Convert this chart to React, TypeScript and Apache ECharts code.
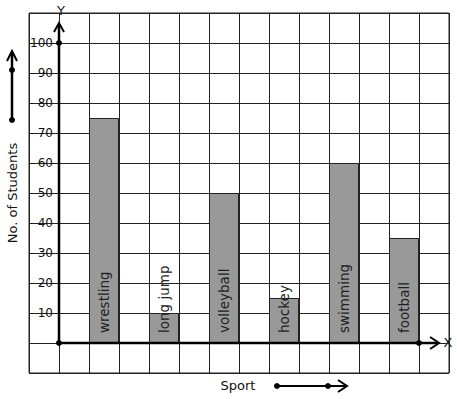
import React, { useEffect, useRef } from "react";
import * as echarts from "echarts";

const sports = ["wrestling", "long jump", "volleyball", "hockey", "swimming", "football"];
const students = [75, 10, 50, 15, 60, 35];
const yTickValues = [10, 20, 30, 40, 50, 60, 70, 80, 90, 100];
const xRange = [-1, 13];
const yRange = [-10, 110];
const axisEnds = { x: 12.67, y: 106.67, xDot: 12, yDot: 100 };

export default function App() {
  const ref = useRef<HTMLDivElement>(null);
  useEffect(() => {
    if (!ref.current) return;
    const chart = echarts.init(ref.current, null, { renderer: "svg" });
    const font = "DejaVu Sans";
    const ink = "#111";
    const barData = sports.map((s, i) => ({ value: [i * 2 + 1.5, students[i]], name: s }));

    const chevron = (apex: number[], dir: "up" | "right") =>
      dir === "up"
        ? [[apex[0] - 5, apex[1] + 9], apex, [apex[0] + 5, apex[1] + 9]]
        : [[apex[0] - 9, apex[1] - 6], apex, [apex[0] - 9, apex[1] + 6]];

    const option: any = {
      animation: false,
      grid: {
        left: 29, right: 8, top: 13, bottom: 26,
        show: true, borderColor: "#222", borderWidth: 1,
        containLabel: false, outerBoundsMode: "none",
      },
      xAxis: {
        type: "value",
        min: xRange[0],
        max: xRange[1],
        interval: 1,
        axisLine: { show: false },
        axisTick: { show: false },
        axisLabel: { show: false },
        splitLine: { show: true, lineStyle: { color: "#222", width: 1 } },
      },
      yAxis: [
        {
          type: "value",
          position: "left",
          offset: -30,
          min: yRange[0],
          max: yRange[1],
          interval: 10,
          axisLine: { show: false, onZero: false },
          axisTick: { show: false },
          axisLabel: {
            customValues: yTickValues,
            fontFamily: font,
            fontSize: 12,
            color: ink,
            margin: 6,
          },
          splitLine: { show: true, lineStyle: { color: "#222", width: 1 } },
        },
        {
          type: "value",
          position: "left",
          min: yRange[0],
          max: yRange[1],
          interval: 10,
          axisLine: { show: false, onZero: false },
          axisTick: { show: true, inside: true, length: 4, customValues: yTickValues, lineStyle: { color: ink, width: 1 } },
          axisLabel: { show: false },
          splitLine: { show: false },
        },
      ],
      series: [
        {
          type: "bar",
          data: barData,
          barWidth: 30,
          itemStyle: { color: "#999999", borderColor: "#222", borderWidth: 1 },
          label: {
            show: true,
            position: "insideBottom",
            distance: 10,
            rotate: 90,
            align: "left",
            verticalAlign: "middle",
            formatter: (p: any) => p.name,
            fontFamily: font,
            fontSize: 13.5,
            color: "#222",
          },
          z: 3,
        },
        {
          type: "custom",
          data: [[0, 0]],
          z: 5,
          silent: true,
          renderItem: (params: any, api: any) => {
            const o = api.coord([0, 0]);
            const yTop = api.coord([0, axisEnds.y]);
            const xEnd = api.coord([axisEnds.x, 0]);
            const yDot = api.coord([0, axisEnds.yDot]);
            const xDot = api.coord([axisEnds.xDot, 0]);
            const st = { stroke: "#000", lineWidth: 2.5, fill: "none" };
            return {
              type: "group",
              children: [
                { type: "line", shape: { x1: o[0], y1: o[1], x2: yTop[0], y2: yTop[1] + 1 }, style: st },
                { type: "line", shape: { x1: o[0], y1: o[1], x2: xEnd[0] - 1, y2: xEnd[1] }, style: st },
                { type: "polyline", shape: { points: chevron(yTop, "up") }, style: { stroke: "#000", lineWidth: 2, fill: "none" } },
                { type: "polyline", shape: { points: chevron(xEnd, "right") }, style: { stroke: "#000", lineWidth: 2, fill: "none" } },
                { type: "circle", shape: { cx: o[0], cy: o[1], r: 3 }, style: { fill: "#000" } },
                { type: "circle", shape: { cx: yDot[0], cy: yDot[1], r: 3 }, style: { fill: "#000" } },
                { type: "circle", shape: { cx: xDot[0], cy: xDot[1], r: 3 }, style: { fill: "#000" } },
              ],
            };
          },
        },
      ],
      graphic: [
        { type: "text", x: 61, y: 10, style: { text: "Y", font: `13px ${font}`, fill: ink, align: "center", verticalAlign: "middle" } },
        { type: "text", x: 448, y: 342, style: { text: "X", font: `13px ${font}`, fill: ink, align: "center", verticalAlign: "middle" } },
        { type: "text", x: 238, y: 385, style: { text: "Sport", font: `13px ${font}`, fill: ink, align: "center", verticalAlign: "middle" } },
        {
          type: "text",
          x: 12,
          y: 193,
          rotation: Math.PI / 2,
          style: { text: "No. of Students", font: `13px ${font}`, fill: ink, align: "center", verticalAlign: "middle" },
        },
        { type: "line", shape: { x1: 12, y1: 120, x2: 12, y2: 52 }, style: { stroke: "#000", lineWidth: 2.5 } },
        { type: "polyline", shape: { points: [[7, 61], [12, 51], [17, 61]] }, style: { stroke: "#000", lineWidth: 2, fill: "none" } },
        { type: "circle", shape: { cx: 12, cy: 70, r: 3 }, style: { fill: "#000" } },
        { type: "circle", shape: { cx: 12, cy: 120, r: 3 }, style: { fill: "#000" } },
        { type: "line", shape: { x1: 277, y1: 386, x2: 345, y2: 386 }, style: { stroke: "#000", lineWidth: 2 } },
        { type: "polyline", shape: { points: [[338, 380], [347, 386], [338, 392]] }, style: { stroke: "#000", lineWidth: 2, fill: "none" } },
        { type: "circle", shape: { cx: 277, cy: 386, r: 3 }, style: { fill: "#000" } },
        { type: "circle", shape: { cx: 328, cy: 386, r: 3 }, style: { fill: "#000" } },
      ],
    };
    chart.setOption(option);
    return () => chart.dispose();
  }, []);
  return (
    <div
      ref={ref}
      style={{ position: "fixed", left: 0, top: 0, width: 457, height: 399, background: "#fff" }}
    />
  );
}
